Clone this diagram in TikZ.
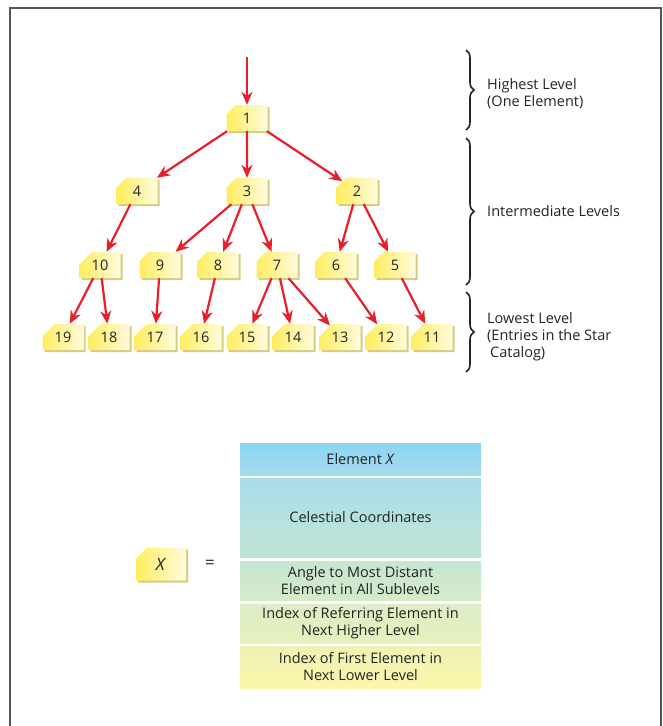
\documentclass[tikz,border=0pt]{standalone}
\usepackage{fontspec}
\setmainfont{Open Sans}
\usepackage{tikz}
\usetikzlibrary{arrows.meta}
\usetikzlibrary{shapes.misc}
\usetikzlibrary{shadows}
\usetikzlibrary{decorations.pathreplacing}
\definecolor{arrowred}{RGB}{232,30,40}
\definecolor{staryellow}{RGB}{255,237,95}
\definecolor{starwhite}{RGB}{255,251,222}
\definecolor{starshadow}{RGB}{214,204,128}
\definecolor{framegray}{RGB}{85,85,85}
\definecolor{textgray}{RGB}{35,35,35}
\tikzstyle{tree}=[x=1pt, y=-1pt, font=\fontsize{14.5}{17}\selectfont, text=textgray]
\tikzstyle{star}=[chamfered rectangle, chamfered rectangle corners=north west,
  chamfered rectangle xsep=8pt, chamfered rectangle ysep=7pt, inner sep=0pt,
  minimum width=41pt, minimum height=26pt, left color=staryellow, right color=starwhite,
  drop shadow={shadow xshift=2pt, shadow yshift=-2pt, fill=starshadow, opacity=1}]
\tikzstyle{edge}=[-{Stealth[length=13pt, width=11pt]}, line width=2.2pt, draw=arrowred]
\tikzstyle{brace}=[decorate, decoration={brace, amplitude=8pt}, line width=1.6pt, draw=textgray]
\tikzstyle{level}=[anchor=west, align=left, inner sep=0pt]
\tikzstyle{row}=[minimum width=241pt, inner sep=0pt, align=center]

\begin{document}
\begin{tikzpicture}[tree]
	\useasboundingbox (0,0) rectangle (662,726);
	\draw[framegray, line width=1.5pt] (10,726) -- (10,8) -- (661,8) -- (661,726);
	% the tree
	\draw (247,118) node[star] (n1) {1};
	\draw (137,191) node[star] (n4) {4};
	\draw (247,191) node[star] (n3) {3};
	\draw (357,191) node[star] (n2) {2};
	\draw (100,265) node[star] (n10) {10};
	\draw (160,265) node[star] (n9) {9};
	\draw (218,265) node[star] (n8) {8};
	\draw (277,265) node[star] (n7) {7};
	\draw (336,265) node[star] (n6) {6};
	\draw (395,265) node[star] (n5) {5};
	\draw (63,337) node[star] (n19) {19};
	\draw (109,337) node[star] (n18) {18};
	\draw (155,337) node[star] (n17) {17};
	\draw (201,337) node[star] (n16) {16};
	\draw (247,337) node[star] (n15) {15};
	\draw (293,337) node[star] (n14) {14};
	\draw (340,337) node[star] (n13) {13};
	\draw (386,337) node[star] (n12) {12};
	\draw (432,337) node[star] (n11) {11};
	\coordinate (entry) at (247,57);
	\draw[edge] (entry) -- (n1);
	\draw[edge] (n1) -- (n4);
	\draw[edge] (n1) -- (n3);
	\draw[edge] (n1) -- (n2);
	\draw[edge] (n4) -- (n10);
	\draw[edge] (n3) -- (n9);
	\draw[edge] (n3) -- (n8);
	\draw[edge] (n3) -- (n7);
	\draw[edge] (n2) -- (n6);
	\draw[edge] (n2) -- (n5);
	\draw[edge] (n10) -- (n19);
	\draw[edge] (n10) -- (n18);
	\draw[edge] (n9) -- (n17);
	\draw[edge] (n8) -- (n16);
	\draw[edge] (n7) -- (n15);
	\draw[edge] (n7) -- (n14);
	\draw[edge] (n7) -- (n13);
	\draw[edge] (n6) -- (n12);
	\draw[edge] (n5) -- (n11);
	% levels
	\draw[brace] (466,50) -- (466,130);
	\draw[brace] (466,138) -- (466,285);
	\draw[brace] (466,292) -- (466,372);
	\draw (487,94) node[level] (high) {Highest Level\\(One Element)};
	\draw (487,211) node[level] (mid) {Intermediate Levels};
	\draw (487,337) node[level] (low) {Lowest Level\\(Entries in the Star\\\hspace{3pt}Catalog)};
	% element X
	\draw (161,564) node[star, minimum width=50pt, minimum height=33pt, font=\fontsize{17}{20}\selectfont] (x) {\textit{X}};
	\draw (210,564) node[font=\fontsize{17}{20}\selectfont] (eq) {=};
	\draw (360.5,459) node[row, minimum height=32pt, top color={rgb,255:red,140;green,212;blue,242}, bottom color={rgb,255:red,165;green,220;blue,235}] (r1) {Element \textit{X}};
	\draw (360.5,517.5) node[row, minimum height=79pt, top color={rgb,255:red,168;green,222;blue,234}, bottom color={rgb,255:red,192;green,228;blue,214}] (r2) {Celestial Coordinates};
	\draw (360.5,580.5) node[row, minimum height=39pt, top color={rgb,255:red,198;green,230;blue,210}, bottom color={rgb,255:red,214;green,234;blue,200}] (r3) {Angle to Most Distant\\Element in All Sublevels};
	\draw (360.5,623.5) node[row, minimum height=39pt, top color={rgb,255:red,220;green,237;blue,198}, bottom color={rgb,255:red,232;green,240;blue,188}] (r4) {Index of Referring Element in\\Next Higher Level};
	\draw (360.5,667) node[row, minimum height=42pt, top color={rgb,255:red,238;green,242;blue,182}, bottom color={rgb,255:red,252;green,246;blue,170}] (r5) {Index of First Element in\\Next Lower Level};
\end{tikzpicture}
\end{document}
